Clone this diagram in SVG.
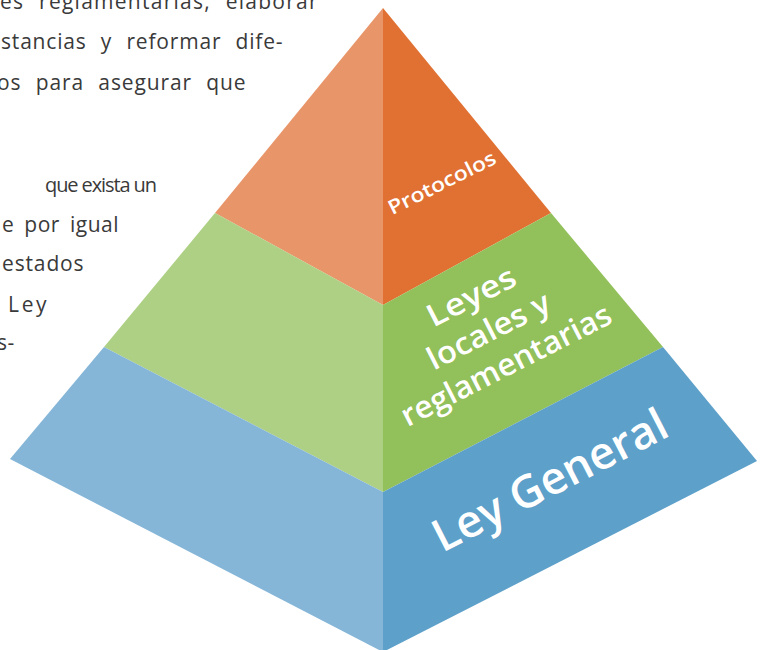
<svg xmlns="http://www.w3.org/2000/svg" width="763" height="650" viewBox="0 0 763 650">
  <style>
    .body { font-family: "Open Sans", "Liberation Sans", sans-serif; font-weight: 400; font-size: 21px; letter-spacing: 0.4px; fill: #3a3a3a; }
    .lbl { font-family: "Open Sans", "Liberation Sans", sans-serif; font-weight: 600; fill: #ffffff; text-anchor: middle; }
  </style>
  <rect width="763" height="650" fill="#ffffff"/>
  <g id="body-text">
    <text class="body" x="0" y="9" word-spacing="8" textLength="318" lengthAdjust="spacing">es reglamentarias, elaborar</text>
    <text class="body" x="1" y="49" word-spacing="8" textLength="282" lengthAdjust="spacing">stancias y reformar dife-</text>
    <text class="body" x="-3" y="90" word-spacing="8" textLength="249" lengthAdjust="spacing">os para asegurar que</text>
    <text class="body" x="45" y="192" style="font-size:20px;letter-spacing:0px" textLength="112" lengthAdjust="spacing">que exista un</text>
    <text class="body" x="2" y="232" word-spacing="4" textLength="117" lengthAdjust="spacing">e por igual</text>
    <text class="body" x="2" y="271" textLength="82" lengthAdjust="spacing">estados</text>
    <text class="body" x="8" y="312" textLength="39" lengthAdjust="spacing">Ley</text>
    <text class="body" x="-3" y="350">s-</text>
  </g>
  <g id="tier-protocolos">
    <polygon points="383,8 215,213 383,305" fill="#E8956A"/>
    <polygon points="383,8 551,213 383,305" fill="#E07133"/>
    <text class="lbl" font-size="20" transform="translate(445,189) rotate(-26.5)" textLength="118" lengthAdjust="spacingAndGlyphs">Protocolos</text>
  </g>
  <g id="tier-leyes-locales">
    <polygon points="215,213 104,347 383,492 383,305" fill="#AED084"/>
    <polygon points="551,213 663,347 383,492 383,305" fill="#92C05A"/>
    <g transform="translate(476,306) rotate(-27)">
      <text class="lbl" font-size="31" x="0" y="0" textLength="96" lengthAdjust="spacingAndGlyphs">Leyes</text>
      <text class="lbl" font-size="31" x="0" y="38.5" textLength="134" lengthAdjust="spacingAndGlyphs">locales y</text>
      <text class="lbl" font-size="31" x="0" y="77" textLength="232" lengthAdjust="spacingAndGlyphs">reglamentarias</text>
    </g>
  </g>
  <g id="tier-ley-general">
    <polygon points="104,347 10,459 383,652 383,492" fill="#85B6D8"/>
    <polygon points="663,347 757,461 383,652 383,492" fill="#5DA0CA"/>
    <text class="lbl" font-size="45" transform="translate(557,494) rotate(-27.2)" textLength="258" lengthAdjust="spacingAndGlyphs">Ley General</text>
  </g>
  <g id="connectors"/>
</svg>
